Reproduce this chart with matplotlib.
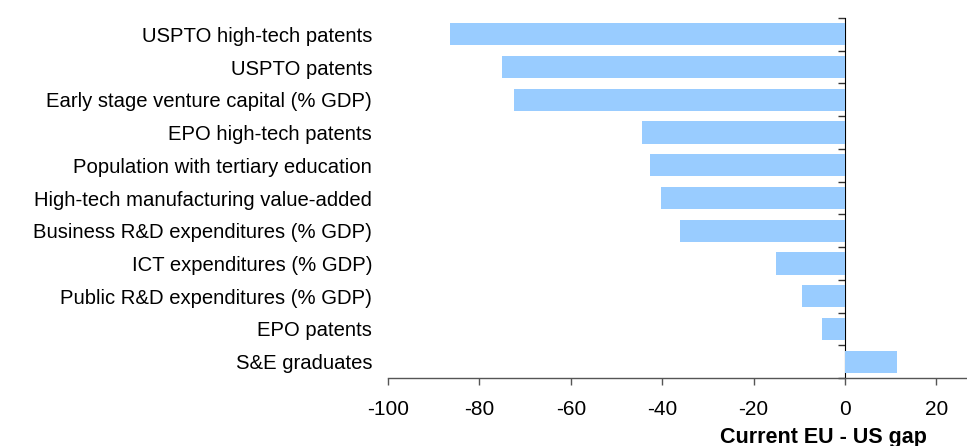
import matplotlib
matplotlib.use("Agg")
import matplotlib.pyplot as plt
import numpy as np

plt.rcParams['font.family'] = ['Liberation Sans', 'DejaVu Sans']

categories = [
    "USPTO high-tech patents",
    "USPTO patents",
    "Early stage venture capital (% GDP)",
    "EPO high-tech patents",
    "Population with tertiary education",
    "High-tech manufacturing value-added",
    "Business R&D expenditures (% GDP)",
    "ICT expenditures (% GDP)",
    "Public R&D expenditures (% GDP)",
    "EPO patents",
    "S&E graduates",
]
gap = [-86.5, -75.1, -72.5, -44.5, -42.7, -40.3, -36.1, -15.1, -9.4, -5.0, 11.4]
xticks = [-100, -80, -60, -40, -20, 0, 20]

fig = plt.figure(figsize=(9.67, 4.46), dpi=100)
ax = fig.add_axes([388/967, 1 - 378/446, 1 - 388/967, 360/446])

y = np.arange(len(categories))
ax.barh(y, gap, height=0.68, color="#99CCFF", zorder=2)
ax.set_ylim(len(categories) - 0.5, -0.5)
xmin, xmax = -100, 26.7
ax.set_xlim(xmin, xmax)

for s in ['top', 'right', 'left']:
    ax.spines[s].set_visible(False)
ax.spines['bottom'].set_color('#555555')
ax.spines['bottom'].set_linewidth(1.0)

ax.set_yticks(y)
ax.set_yticklabels(categories, fontsize=14.6)
ax.tick_params(axis='y', length=0, pad=11.5)
ax.set_xticks(xticks)
ax.set_xticklabels([str(v) for v in xticks], fontsize=15)
ax.tick_params(axis='x', direction='out', length=5, width=1, color='#555555', pad=11)

# vertical zero axis with boundary ticks
frac0 = (0 - xmin) / (xmax - xmin)
sec = ax.secondary_yaxis(frac0)
sec.set_yticks(np.arange(len(categories) + 1) - 0.5)
sec.set_yticklabels([])
sec.tick_params(axis='y', direction='in', length=5, width=1, color='#333333')
sec.spines['left'].set_color('#555555')
sec.spines['left'].set_linewidth(1.2)

fig.text(823/967, 1 - 437/446, "Current EU - US gap", ha='center', va='center',
         fontsize=15.5, fontweight='bold')

fig.savefig("out.png", dpi=100)
